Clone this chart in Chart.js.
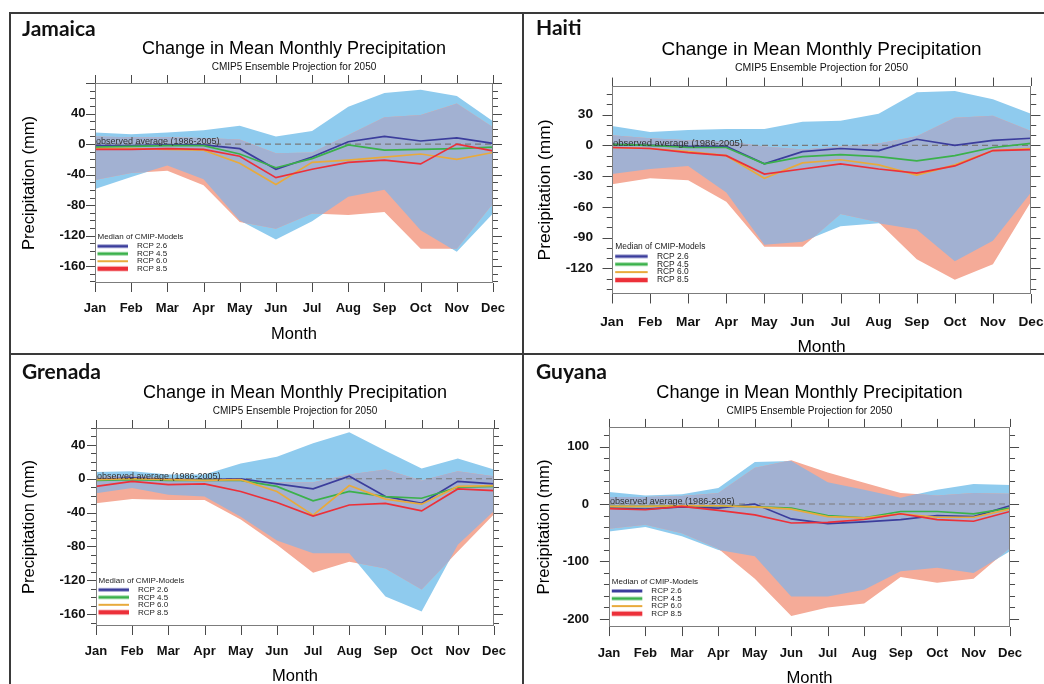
<!DOCTYPE html>
<html><head><meta charset="utf-8">
<script src="https://cdn.jsdelivr.net/npm/chart.js@4.4.1/dist/chart.umd.min.js"></script>
<style>
html,body{margin:0;padding:0;background:#fff;overflow:hidden;width:1044px;height:684px;}
.clip{position:absolute;overflow:hidden;background:#fff;}
.clip canvas{position:absolute;left:0;top:0;}
.rule{position:absolute;background:#3a3a3a;}
.country{position:absolute;font-family:Lato,'Open Sans',sans-serif;font-weight:700;font-size:21px;line-height:24px;color:#111;white-space:nowrap;}
.obs{position:absolute;font-family:'Liberation Sans',Arial,sans-serif;font-size:9px;line-height:9px;color:#333;white-space:nowrap;}
</style></head><body>
<div class="clip" style="left:11px;top:14px;width:511px;height:339px"><canvas id="c0"></canvas><div class="obs" id="o0">observed average (1986-2005)</div></div>
<div class="clip" style="left:524px;top:14px;width:520px;height:339px"><canvas id="c1"></canvas><div class="obs" id="o1">observed average (1986-2005)</div></div>
<div class="clip" style="left:11px;top:355px;width:511px;height:329px"><canvas id="c2"></canvas><div class="obs" id="o2">observed average (1986-2005)</div></div>
<div class="clip" style="left:524px;top:355px;width:520px;height:329px"><canvas id="c3"></canvas><div class="obs" id="o3">observed average (1986-2005)</div></div>
<div class="country" style="left:22px;top:16px">Jamaica</div>
<div class="country" style="left:536px;top:15px">Haiti</div>
<div class="country" style="left:22px;top:359px">Grenada</div>
<div class="country" style="left:536px;top:359px">Guyana</div>
<div class="rule" style="left:9px;top:12px;width:1035px;height:2px"></div>
<div class="rule" style="left:9px;top:12px;width:2px;height:672px"></div>
<div class="rule" style="left:522px;top:12px;width:2px;height:672px"></div>
<div class="rule" style="left:9px;top:353px;width:1035px;height:2px"></div>
<script>
const months = ['Jan','Feb','Mar','Apr','May','Jun','Jul','Aug','Sep','Oct','Nov','Dec'];
const rcpNames = ['RCP 2.6','RCP 4.5','RCP 6.0','RCP 8.5'];

// Jamaica
const jamaicaBlueHigh = [15, 13, 15, 18, 24, 10, 17, 49, 67, 71, 63, 30];
const jamaicaBlueLow  = [-59, -43, -28, -46, -100, -125, -101, -69, -60, -113, -141, -91];
const jamaicaRedHigh  = [10, 9, 9, 8, 6, -12, -11, 12, 35, 38, 53, 22];
const jamaicaRedLow   = [-47, -38, -35, -54, -102, -111, -91, -93, -89, -137, -137, -78];
const jamaicaRcp26 = [-2, -2, -1, -1, -6, -33, -17, 3, 10, 4, 8, 1];
const jamaicaRcp45 = [-4, -3, -2, -2, -13, -31, -19, -1, -8, -7, -6, -4];
const jamaicaRcp60 = [-6, -6, -7, -8, -25, -53, -24, -21, -17, -13, -20, -11];
const jamaicaRcp85 = [-7, -7, -6, -7, -16, -44, -33, -24, -21, -26, 0, -9];
const jamaicaYTicks = [40, 0, -40, -80, -120, -160];

// Haiti
const haitiBlueHigh = [19, 13, 15, 16, 16, 23, 24, 31, 52, 53, 45, 31];
const haitiBlueLow  = [-28, -23, -20, -46, -97, -94, -79, -76, -82, -113, -93, -46];
const haitiRedHigh  = [10, 7, 5, 4, -1, -4, -1, 2, 9, 27, 29, 14];
const haitiRedLow   = [-38, -32, -34, -55, -99, -99, -67, -75, -111, -131, -116, -55];
const haitiRcp26 = [1, 0, -1, -1, -18, -6, -3, -5, 6, 0, 5, 7];
const haitiRcp45 = [1, 0, -2, -2, -18, -11, -9, -11, -15, -10, -2, 2];
const haitiRcp60 = [-2, -3, -6, -10, -32, -17, -14, -19, -29, -19, -5, -3];
const haitiRcp85 = [-2, -3, -7, -10, -28, -23, -18, -23, -27, -20, -5, -4];
const haitiYTicks = [30, 0, -30, -60, -90, -120];

// Grenada
const grenadaBlueHigh = [8, 9, 5, 5, 18, 26, 42, 55, 33, 12, 24, 11];
const grenadaBlueLow  = [-17, -11, -19, -21, -45, -73, -88, -88, -139, -157, -78, -38];
const grenadaRedHigh  = [2, 4, 0, 0, -2, -4, -4, 5, 11, -2, 9, 3];
const grenadaRedLow   = [-29, -24, -25, -25, -48, -78, -111, -98, -106, -131, -86, -42];
const grenadaRcp26 = [-1, 1, -1, -1, 0, -6, -12, 3, -21, -29, -3, -6];
const grenadaRcp45 = [-2, -1, -2, -2, -2, -9, -26, -15, -21, -23, -10, -9];
const grenadaRcp60 = [-1, 0, -1, -2, -1, -15, -43, -8, -24, -30, -9, -8];
const grenadaRcp85 = [-9, -3, -7, -6, -15, -28, -44, -31, -29, -38, -12, -14];
const grenadaYTicks = [40, 0, -40, -80, -120, -160];

// Guyana
const guyanaBlueHigh = [21, 15, 17, 28, 73, 75, 38, 25, 11, 25, 35, 33];
const guyanaBlueLow  = [-48, -40, -56, -80, -91, -161, -161, -149, -117, -111, -120, -82];
const guyanaRedHigh  = [12, 12, 14, 19, 63, 76, 55, 37, 19, 15, 19, 18];
const guyanaRedLow   = [-43, -36, -51, -78, -130, -195, -180, -173, -127, -137, -130, -76];
const guyanaRcp26 = [-7, -9, -5, -7, 0, -26, -34, -31, -27, -20, -22, -3];
const guyanaRcp45 = [-4, -4, -3, -3, -5, -7, -20, -24, -13, -13, -17, -7];
const guyanaRcp60 = [-4, -4, -3, -3, -5, -9, -22, -24, -17, -23, -23, -9];
const guyanaRcp85 = [-8, -10, -4, -11, -19, -33, -32, -27, -17, -27, -30, -13];
const guyanaYTicks = [100, 0, -100, -200];

const BLUE = '#8fcbee', RED = '#f5ab98', OVER = '#a2b1d2';
const LINE_COLORS = ['#3b3d9c', '#3bb14b', '#e8aa3c', '#ec3039'];
const LEG_WIDTHS = [3, 3, 2, 4.5];

Chart.defaults.font.family = "'Liberation Sans', Arial, Helvetica, sans-serif";
Chart.defaults.color = '#000';

function interp(arr, x) {
  const i = Math.min(Math.floor(x), arr.length - 2);
  const t = x - i;
  return arr[i] + (arr[i + 1] - arr[i]) * t;
}
function crossings(a, b) {
  const xs = [];
  for (let i = 0; i < a.length - 1; i++) {
    const d0 = a[i] - b[i], d1 = a[i + 1] - b[i + 1];
    if (d0 * d1 < 0) xs.push(i + d0 / (d0 - d1));
  }
  return xs;
}
function overlapBand(bLo, bHi, rLo, rHi) {
  const xs = months.map((m, i) => i).concat(crossings(bLo, rLo), crossings(bHi, rHi));
  xs.sort((a, b) => a - b);
  const lo = [], hi = [];
  xs.forEach(x => {
    const l = Math.max(interp(bLo, x), interp(rLo, x));
    const h = Math.max(l, Math.min(interp(bHi, x), interp(rHi, x)));
    lo.push({x, y: l}); hi.push({x, y: h});
  });
  return {lo, hi};
}
const pts = arr => arr.map((y, i) => ({x: i, y}));

function swatch(color, w, s) {
  const c = document.createElement('canvas');
  c.width = Math.round(36 * s); c.height = 8;
  const g = c.getContext('2d');
  g.strokeStyle = color; g.lineWidth = w;
  g.beginPath(); g.moveTo(0, 4); g.lineTo(Math.round(31 * s), 4); g.stroke();
  return c;
}

const panels = [
  {id: 0, ox: 11, oy: 14, cw: 511, ch: 339, L: 95, R: 493, T: 83, B: 283, titleY: 49, subY: 67, tickY: 308, monthY: 334, yTitleX: 29, yGap: 9.5, s: 1,
   yMin: -182, yMax: 80, major: 40, minor: 10, yTicks: jamaicaYTicks, legDx: 2.5, legDy: 10.8,
   bLo: jamaicaBlueLow, bHi: jamaicaBlueHigh, rLo: jamaicaRedLow, rHi: jamaicaRedHigh, lines: [jamaicaRcp26, jamaicaRcp45, jamaicaRcp60, jamaicaRcp85]},
  {id: 1, ox: 524, oy: 14, cw: 520, ch: 339, L: 612, R: 1031, T: 86, B: 294, titleY: 50, subY: 68, tickY: 322, monthY: 347, yTitleX: 545, yGap: 19, s: 1.053,
   yMin: -145, yMax: 58, major: 30, minor: 10, yTicks: haitiYTicks, legDx: 3.2, legDy: 10.3,
   bLo: haitiBlueLow, bHi: haitiBlueHigh, rLo: haitiRedLow, rHi: haitiRedHigh, lines: [haitiRcp26, haitiRcp45, haitiRcp60, haitiRcp85]},
  {id: 2, ox: 11, oy: 355, cw: 511, ch: 329, L: 96, R: 494, T: 428, B: 626, titleY: 393, subY: 411, tickY: 651, monthY: 676, yTitleX: 29, yGap: 10.5, s: 1,
   yMin: -174, yMax: 60, major: 40, minor: 10, yTicks: grenadaYTicks, legDx: 2.5, legDy: 10.2,
   bLo: grenadaBlueLow, bHi: grenadaBlueHigh, rLo: grenadaRedLow, rHi: grenadaRedHigh, lines: [grenadaRcp26, grenadaRcp45, grenadaRcp60, grenadaRcp85]},
  {id: 3, ox: 524, oy: 355, cw: 520, ch: 329, L: 609, R: 1010, T: 427, B: 627, titleY: 393, subY: 411, tickY: 653, monthY: 678, yTitleX: 544, yGap: 20, s: 1.008,
   yMin: -214, yMax: 134, major: 100, minor: 20, yTicks: guyanaYTicks, legDx: 2.8, legDy: 9.8,
   bLo: guyanaBlueLow, bHi: guyanaBlueHigh, rLo: guyanaRedLow, rHi: guyanaRedHigh, lines: [guyanaRcp26, guyanaRcp45, guyanaRcp60, guyanaRcp85]}
];

function makeChart(P) {
  const cv = document.getElementById('c' + P.id);
  const CW = P.cw + 60, CH = P.ch + 60;
  cv.width = CW; cv.height = CH; cv.style.width = CW + 'px'; cv.style.height = CH + 'px';
  const s = P.s;
  const l = P.L - P.ox, r = P.R - P.ox, t = P.T - P.oy, b = P.B - P.oy;
  const lhT = 1.2 * 18 * s, lhS = 1.2 * 10 * s, lhTick = 1.2 * 13 * s, lhAx = 1.2 * 16.5 * s;
  const titleTop = P.titleY - P.oy - lhT / 2;
  const subTop = P.subY - P.oy - lhS / 2;
  const titlePadB = Math.max(0, subTop - (titleTop + lhT));
  const subPadB = t - (titleTop + lhT + titlePadB + lhS);
  const H = (P.monthY - P.oy) - b + lhAx / 2;
  const tickPad = (P.tickY - P.oy) - b - lhTick / 2;
  const yTitlePad = (P.yTitleX - P.ox) - lhAx / 2;

  const ov = overlapBand(P.bLo, P.bHi, P.rLo, P.rHi);
  const band = (data, order, filled, color) => ({
    type: 'line', data, order, borderWidth: 0, borderColor: 'rgba(0,0,0,0)', pointRadius: 0,
    fill: filled ? '-1' : false, backgroundColor: color, tension: 0
  });
  const datasets = [
    band(pts(P.bLo), 10, false, 'rgba(0,0,0,0)'),
    band(pts(P.bHi), 10, true, BLUE),
    band(pts(P.rLo), 9, false, 'rgba(0,0,0,0)'),
    band(pts(P.rHi), 9, true, RED),
    band(ov.lo, 8, false, 'rgba(0,0,0,0)'),
    band(ov.hi, 8, true, OVER),
    {type: 'line', data: [{x: 0, y: 0}, {x: 11, y: 0}], order: 5, borderColor: '#7a7a7a', borderWidth: 1.2,
     borderDash: [6, 4], pointRadius: 0, fill: false}
  ];
  P.lines.forEach((arr, k) => datasets.push({
    type: 'line', label: rcpNames[k], data: pts(arr), order: 4 - k, borderColor: LINE_COLORS[k],
    borderWidth: 1.7, pointRadius: 0, fill: false, tension: 0
  }));
  const swatches = LINE_COLORS.map((c, k) => swatch(c, LEG_WIDTHS[k], s));

  const framePlugin = {
    id: 'frame' + P.id,
    afterLayout(chart) {
      const lg = chart.legend; const ca = chart.chartArea;
      if (lg) { lg.left = ca.left + P.legDx; lg.bottom = ca.bottom - P.legDy; }
    },
    afterDraw(chart) {
      const {ctx, chartArea: ca, scales: {x, y}} = chart;
      ctx.save();
      ctx.strokeStyle = '#7c7c7c'; ctx.lineWidth = 1;
      ctx.strokeRect(ca.left + 0.5, ca.top + 0.5, ca.right - ca.left - 1, ca.bottom - ca.top - 1);
      ctx.strokeStyle = '#4a4a4a';
      ctx.beginPath();
      for (let v = Math.ceil(P.yMin / P.minor) * P.minor; v <= P.yMax; v += P.minor) {
        const py = Math.round(y.getPixelForValue(v)) + 0.5;
        const len = (v % P.major === 0 ? 9 : 5) * s;
        ctx.moveTo(ca.left - len, py); ctx.lineTo(ca.left, py);
        ctx.moveTo(ca.right, py); ctx.lineTo(ca.right + len, py);
      }
      months.forEach((m, i) => {
        const px = Math.round(x.getPixelForValue(i)) + 0.5;
        ctx.moveTo(px, ca.bottom); ctx.lineTo(px, ca.bottom + 9 * s);
        ctx.moveTo(px, ca.top); ctx.lineTo(px, ca.top - 8 * s);
      });
      ctx.stroke();
      ctx.restore();
    }
  };

  const chart = new Chart(cv, {
    type: 'line',
    data: {datasets},
    plugins: [framePlugin],
    options: {
      responsive: false, animation: false, events: [],
      layout: {padding: {left: 0, top: titleTop, right: CW - r, bottom: CH - b - H}},
      scales: {
        x: {
          type: 'linear', min: 0, max: 11,
          afterBuildTicks: sc => { sc.ticks = months.map((m, i) => ({value: i})); },
          afterFit: sc => { sc.height = H; },
          grid: {display: false, drawTicks: false}, border: {display: false},
          ticks: {autoSkip: false, maxRotation: 0, padding: tickPad, font: {size: 13 * s, weight: 'bold'}, color: '#111',
                  callback: v => months[Math.round(v)]},
          title: {display: true, text: 'Month', font: {size: 16.5 * s}, color: '#000', padding: {top: 0, bottom: 0}}
        },
        y: {
          type: 'linear', min: P.yMin, max: P.yMax,
          afterBuildTicks: sc => { sc.ticks = P.yTicks.map(v => ({value: v})); },
          afterFit: sc => { sc.width = l; },
          grid: {display: false, drawTicks: false}, border: {display: false},
          ticks: {padding: P.yGap, font: {size: 13 * s, weight: 'bold'}, color: '#111'},
          title: {display: true, text: 'Precipitation (mm)', font: {size: 16.5 * s}, color: '#000', padding: {top: yTitlePad, bottom: 0}}
        }
      },
      plugins: {
        title: {display: true, text: 'Change in Mean Monthly Precipitation', fullSize: false,
                font: {size: 18 * s, weight: 'normal'}, color: '#000', padding: {top: 0, bottom: titlePadB}},
        subtitle: {display: true, text: 'CMIP5 Ensemble Projection for 2050', fullSize: false,
                   font: {size: 10 * s}, color: '#111', padding: {top: 0, bottom: subPadB}},
        legend: {
          display: true, position: 'chartArea', align: 'end',
          title: {display: true, text: 'Median of CMIP-Models', position: 'start', color: '#222', font: {size: 8 * s}, padding: 0},
          labels: {
            usePointStyle: true, pointStyleWidth: Math.round(36 * s), padding: -0.5 * s,
            font: {size: 8 * s}, color: '#222',
            generateLabels: () => rcpNames.map((n, k) => ({
              text: n, pointStyle: swatches[k], fillStyle: 'rgba(0,0,0,0)', strokeStyle: 'rgba(0,0,0,0)',
              lineWidth: 0, hidden: false, datasetIndex: 7 + k, fontColor: '#222'
            }))
          }
        },
        tooltip: {enabled: false}
      }
    }
  });

  const o = document.getElementById('o' + P.id);
  const zy = chart.scales.y.getPixelForValue(0);
  o.style.fontSize = (9 * s) + 'px';
  o.style.lineHeight = (9 * s) + 'px';
  o.style.left = (chart.chartArea.left + 1) + 'px';
  o.style.top = (zy - 7.6 * s + 1) + 'px';
  return chart;
}

panels.forEach(makeChart);
</script>
</body></html>
